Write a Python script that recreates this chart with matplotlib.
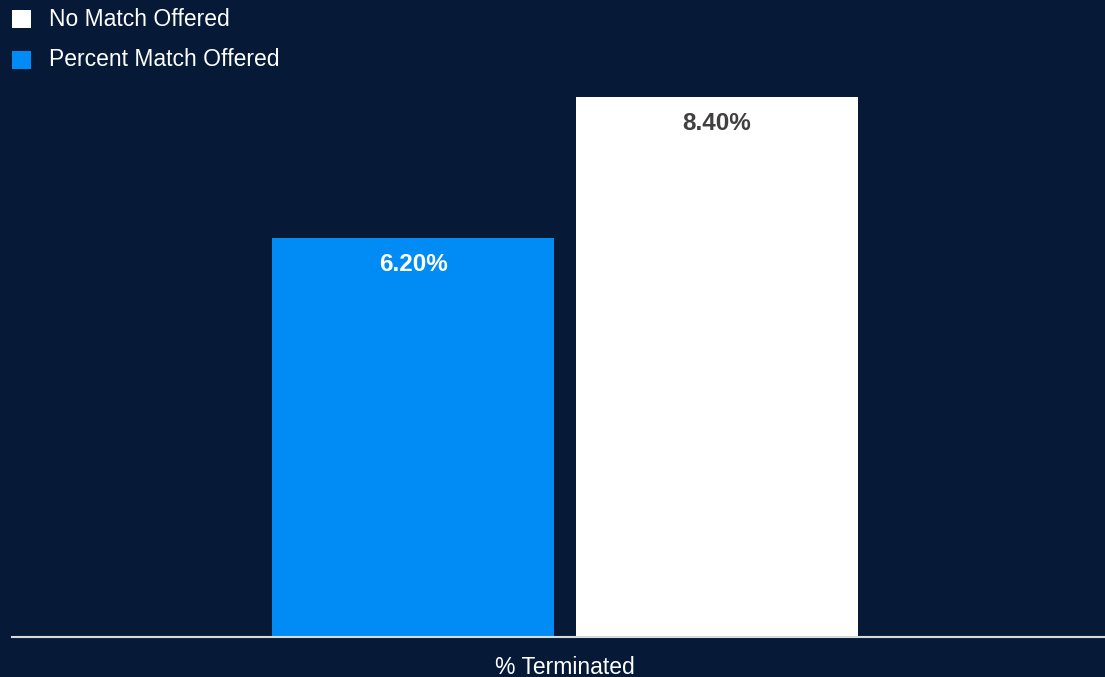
import matplotlib.pyplot as plt
from matplotlib.patches import Rectangle

plt.rcParams['font.family'] = ['Liberation Sans', 'DejaVu Sans']

# data
category = '% Terminated'
series = ['Percent Match Offered', 'No Match Offered']
values = [6.20, 8.40]
colors = ['#008bf5', '#ffffff']
label_colors = ['#ffffff', '#404040']

bg = '#061a38'

fig = plt.figure(figsize=(11.05, 6.77), dpi=100, facecolor=bg)
W, H = 1105.0, 677.0
# axes spans x 12..1105 px, y 0..636.5 px (from top)
ax = fig.add_axes([12 / W, (H - 636.5) / H, 1 - 12 / W, 636.5 / H])
ax.set_facecolor(bg)

width = 1.0
gap = 22 / 282
offsets = [-(width + gap) / 2, (width + gap) / 2]
for off, v, c, lc in zip(offsets, values, colors, label_colors):
    ax.bar(off, v, width=width, color=c, edgecolor='none')
    ax.text(off, v - 0.42, f'{v:.2f}%', ha='center', va='center',
            fontsize=17.5, fontweight='bold', color=lc)

ax.set_xlim(-553 / 282, 540 / 282)
ax.set_ylim(0, 636.5 / (540 / 8.4))

for s in ['top', 'left', 'right']:
    ax.spines[s].set_visible(False)
ax.spines['bottom'].set_color('#d9d9d9')
ax.spines['bottom'].set_linewidth(1.5)
ax.set_yticks([])
ax.set_xticks([])

fig.text(565 / W, 1 - 667 / H, category, ha='center', va='center',
         fontsize=16.5, color='#ffffff')

# legend (order as shown in the picture)
leg_items = [(series[1], colors[1], 19), (series[0], colors[0], 60)]
for name, c, yc in leg_items:
    fig.patches.append(Rectangle((12 / W, 1 - (yc + 9) / H), 19 / W, 18 / H,
                                 transform=fig.transFigure, facecolor=c,
                                 edgecolor='none'))
    fig.text(49 / W, 1 - yc / H, name, ha='left', va='center',
             fontsize=16.5, color='#ffffff')

fig.savefig('out.png', dpi=100, facecolor=bg)
